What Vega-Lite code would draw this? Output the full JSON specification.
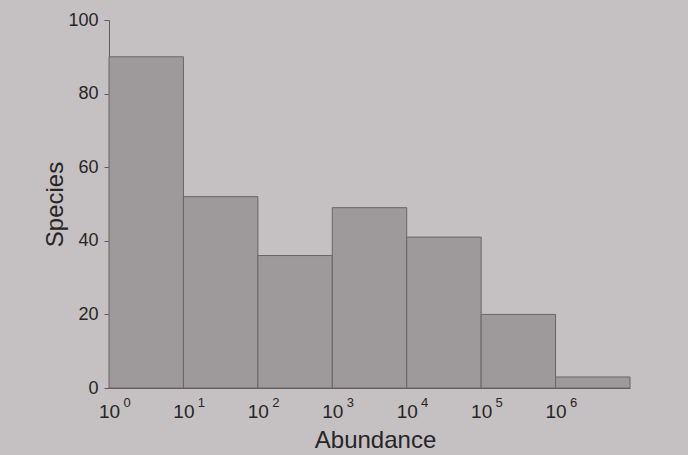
{
  "$schema": "https://vega.github.io/schema/vega-lite/v6.json",
  "width": 521,
  "height": 368,
  "autosize": {"type": "none"},
  "padding": {"left": 109, "top": 20, "right": 58, "bottom": 67},
  "background": "#c5c0c1",
  "config": {"view": {"stroke": null}, "font": "Liberation Sans"},
  "data": {
    "values": [
      {"lo": 0, "hi": 1, "species": 90},
      {"lo": 1, "hi": 2, "species": 52},
      {"lo": 2, "hi": 3, "species": 36},
      {"lo": 3, "hi": 4, "species": 49},
      {"lo": 4, "hi": 5, "species": 41},
      {"lo": 5, "hi": 6, "species": 20},
      {"lo": 6, "hi": 7, "species": 3}
    ]
  },
  "layer": [
    {
      "mark": {"type": "bar", "color": "#9e999b", "stroke": "#6a6567", "strokeWidth": 1},
      "encoding": {
        "x": {
          "field": "lo",
          "type": "quantitative",
          "scale": {"domain": [0, 7], "nice": false, "zero": false},
          "axis": {
            "values": [0, 1, 2, 3, 4, 5, 6],
            "labelExpr": "'10'",
            "ticks": false,
            "grid": false,
            "domainColor": "#5e595b",
            "labelFontSize": 19,
            "labelColor": "#262626",
            "labelPadding": 14,
            "labelDx": 4,
            "labelFlush": false,
            "title": "Abundance",
            "titleFontSize": 24,
            "titleFontWeight": "normal",
            "titleColor": "#262626",
            "titlePadding": 7,
            "titleX": 266
          }
        },
        "x2": {"field": "hi"},
        "y": {
          "field": "species",
          "type": "quantitative",
          "scale": {"domain": [0, 100], "nice": false},
          "axis": {
            "values": [0, 20, 40, 60, 80, 100],
            "grid": false,
            "tickSize": 5,
            "tickColor": "#5e595b",
            "domainColor": "#5e595b",
            "labelFontSize": 18,
            "labelColor": "#262626",
            "labelPadding": 6,
            "title": "Species",
            "titleFontSize": 24,
            "titleFontWeight": "normal",
            "titleColor": "#262626",
            "titlePadding": 0
          }
        },
        "y2": {"datum": 0}
      }
    },
    {
      "mark": {"type": "text", "fontSize": 13, "color": "#262626", "align": "center", "baseline": "middle", "dx": 18, "dy": 15},
      "encoding": {
        "x": {"field": "lo", "type": "quantitative"},
        "y": {"datum": 0},
        "text": {"field": "lo", "type": "nominal"}
      }
    }
  ]
}
